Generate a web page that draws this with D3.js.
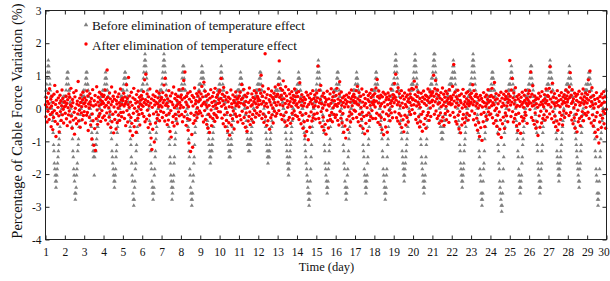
<!DOCTYPE html>
<html>
<head>
<meta charset="utf-8">
<script src="https://cdn.jsdelivr.net/npm/d3@7"></script>
<style>
body { margin: 0; background: #fff; }
svg { display: block; }
text { font-family: "Liberation Serif", "Times New Roman", serif; }
</style>
</head>
<body>
<div id="chart"></div>
<script>
// day index of each row below, samples every 30 min
const days = [1,2,3,4,5,6,7,8,9,10,11,12,13,14,15,16,17,18,19,20,21,22,23,24,25,26,27,28,29];
const xTicks = [1,2,3,4,5,6,7,8,9,10,11,12,13,14,15,16,17,18,19,20,21,22,23,24,25,26,27,28,29,30];
const yTicks = [-4,-3,-2,-1,0,1,2,3];
const seriesNames = ["Before elimination of temperature effect", "After elimination of temperature effect"];

// cable force variation (%) before temperature correction, one row per day
const beforeByDay = [
 [0.37,0.56,0.56,0.74,0.93,1.11,1.30,1.48,1.30,1.11,0.93,0.74,0.56,0.37,0.37,0.19,0,-0.19,-0.37,-0.74,-1.11,-1.30,-1.67,-1.85,-2.04,-2.22,-2.41,-2.22,-2.04,-1.85,-1.67,-1.48,-1.30,-1.11,-0.93,-0.74,-0.56,-0.37,-0.19,-0.19,0,0,0.19,0.19,0.37,0.19,0.37,0.37],
 [0.19,0.37,0.37,0.56,0.74,0.93,1.11,0.93,1.11,0.74,0.56,0.56,0.37,0.19,0.19,0,-0.19,-0.19,-0.56,-0.93,-1.30,-1.48,-1.85,-2.04,-2.22,-2.59,-2.78,-2.59,-2.41,-2.04,-1.85,-1.67,-1.30,-1.11,-0.93,-0.56,-0.37,-0.37,-0.19,0,0,0.19,0.19,0.37,0.19,0.37,0.56,0.37],
 [0.37,0.37,0.56,0.74,0.93,1.11,0.93,1.11,0.74,0.74,0.56,0.37,0.37,0.19,0,0,-0.19,-0.37,-0.56,-0.74,-0.93,-1.11,-1.30,-1.48,-1.30,-2.04,-1.48,-1.30,-1.11,-1.30,-1.11,-0.93,-0.74,-0.56,-0.56,-0.37,-0.19,-0.19,0,0,0.19,0.19,0.37,0.19,0.37,0.37,0.56,0.37],
 [0.37,0.56,0.56,0.74,0.93,1.11,0.93,0.93,0.74,0.56,0.56,0.37,0.37,0.19,0,-0.19,-0.19,-0.37,-0.56,-0.74,-0.93,-1.30,-1.48,-1.67,-1.85,-2.04,-2.22,-2.41,-2.22,-2.04,-1.85,-1.48,-1.30,-1.11,-0.74,-0.56,-0.37,-0.19,-0.19,0,0,0.19,0.19,0.37,0.37,0.19,0.37,0.56],
 [0.56,0.56,0.74,0.93,0.93,1.11,1.11,0.93,0.74,0.74,0.56,0.37,0.37,0.19,0.19,0,-0.19,-0.37,-0.56,-0.93,-1.11,-1.48,-1.67,-2.04,-2.22,-2.59,-2.78,-2.96,-2.78,-2.41,-2.22,-1.85,-1.67,-1.30,-1.11,-0.74,-0.56,-0.37,-0.19,-0.19,0,0.19,0.19,0.37,0.37,0.56,0.37,0.56],
 [0.56,0.74,0.74,0.93,1.11,1.30,1.48,1.67,1.48,1.30,1.11,0.93,0.74,0.56,0.37,0.19,0,-0.19,-0.37,-0.74,-1.11,-1.30,-1.67,-1.85,-2.22,-2.41,-2.59,-2.78,-2.59,-2.41,-2.04,-1.85,-1.48,-1.30,-0.93,-0.74,-0.56,-0.37,-0.19,0,0,0.19,0.37,0.37,0.56,0.37,0.56,0.56],
 [0.56,0.74,0.93,1.11,1.30,1.48,1.67,1.48,1.30,1.11,0.93,0.74,0.56,0.37,0.19,0.19,0,-0.19,-0.56,-0.93,-1.11,-1.48,-1.67,-2.04,-2.22,-2.41,-2.78,-2.59,-2.41,-2.22,-2.04,-1.67,-1.48,-1.11,-0.93,-0.74,-0.37,-0.37,-0.19,0,0.19,0.19,0.37,0.37,0.56,0.56,0.37,0.56],
 [0.56,0.56,0.74,0.93,1.11,1.30,1.11,1.30,0.93,0.74,0.56,0.56,0.37,0.37,0.19,0,-0.19,-0.37,-0.56,-0.93,-1.30,-1.48,-1.85,-2.04,-2.41,-2.59,-2.78,-2.96,-2.78,-2.59,-2.22,-2.04,-1.67,-1.48,-1.11,-0.74,-0.56,-0.37,-0.19,0,0,0.19,0.37,0.37,0.56,0.74,0.56,0.74],
 [0.74,0.74,0.93,1.11,1.30,1.11,0.93,1.11,0.93,0.74,0.56,0.56,0.37,0.37,0.19,0.19,0,-0.19,-0.37,-0.56,-0.74,-0.93,-1.11,-1.30,-1.48,-1.67,-1.48,-1.30,-1.11,-1.30,-1.11,-0.93,-0.74,-0.56,-0.37,-0.37,-0.19,0,0,0.19,0.19,0.37,0.37,0.56,0.37,0.56,0.56,0.74],
 [0.56,0.74,0.93,1.11,1.30,1.11,0.93,0.93,0.74,0.56,0.56,0.37,0.37,0.19,0.19,0,0,-0.19,-0.37,-0.56,-0.74,-0.93,-1.11,-1.30,-1.48,-1.30,-1.48,-1.30,-1.11,-0.93,-1.11,-0.74,-0.56,-0.37,-0.37,-0.19,-0.19,0,0,0.19,0.19,0.37,0.37,0.37,0.56,0.37,0.56,0.56],
 [0.56,0.56,0.74,0.93,1.11,0.93,0.93,0.74,0.74,0.56,0.37,0.37,0.19,0.19,0,0,-0.19,-0.19,-0.37,-0.56,-0.74,-0.93,-1.11,-1.11,-1.30,-1.11,-1.30,-1.11,-0.93,-1.11,-0.93,-0.74,-0.56,-0.37,-0.37,-0.19,0,0,0.19,0.19,0.37,0.37,0.56,0.37,0.56,0.56,0.74,0.56],
 [0.56,0.74,0.74,0.93,1.11,0.93,1.11,0.74,0.56,0.56,0.37,0.37,0.19,0.19,0,-0.19,-0.19,-0.37,-0.56,-0.74,-0.93,-1.11,-1.30,-1.48,-1.67,-1.48,-1.30,-1.48,-1.30,-1.11,-0.93,-0.74,-0.56,-0.56,-0.37,-0.19,-0.19,0,0,0.19,0.19,0.37,0.37,0.56,0.56,0.37,0.56,0.56],
 [0.56,0.74,0.93,0.93,1.11,0.93,0.74,0.74,0.56,0.56,0.37,0.37,0.19,0.19,0,0,-0.19,-0.37,-0.37,-0.56,-0.74,-0.93,-1.11,-1.30,-1.48,-1.67,-1.85,-2.04,-1.85,-1.67,-1.48,-1.30,-1.11,-0.93,-0.74,-0.56,-0.37,-0.19,0,0,0.19,0.19,0.37,0.37,0.56,0.37,0.56,0.56],
 [0.56,0.74,0.74,0.93,1.11,0.93,0.93,0.74,0.56,0.56,0.37,0.37,0.19,0,0,-0.19,-0.37,-0.56,-0.74,-0.93,-1.11,-1.30,-1.48,-1.67,-1.85,-2.04,-2.22,-2.41,-2.59,-2.78,-2.96,-2.78,-2.59,-2.22,-1.85,-1.48,-1.11,-0.74,-0.56,-0.37,-0.19,0,0,0.19,0.19,0.37,0.37,0.56],
 [0.56,0.74,0.93,1.11,1.30,1.48,1.30,1.11,0.93,0.74,0.56,0.56,0.37,0.19,0.19,0,-0.19,-0.37,-0.56,-0.74,-1.11,-1.30,-1.67,-1.85,-2.04,-2.22,-2.41,-2.59,-2.41,-2.22,-1.85,-1.67,-1.30,-1.11,-0.93,-0.56,-0.37,-0.19,-0.19,0,0.19,0.19,0.37,0.37,0.56,0.37,0.56,0.56],
 [0.56,0.56,0.74,0.93,1.11,0.93,1.11,0.74,0.74,0.56,0.37,0.37,0.19,0.19,0,-0.19,-0.37,-0.56,-0.74,-1.11,-1.30,-1.67,-1.85,-2.22,-2.41,-2.59,-2.78,-2.59,-2.41,-2.04,-1.85,-1.48,-1.30,-0.93,-0.74,-0.56,-0.37,-0.19,0,0,0.19,0.19,0.37,0.37,0.56,0.56,0.37,0.56],
 [0.56,0.74,0.74,0.93,1.11,0.93,0.93,0.74,0.56,0.56,0.37,0.37,0.19,0.19,0,-0.19,-0.19,-0.37,-0.56,-0.74,-1.11,-1.30,-1.48,-1.85,-2.04,-2.22,-2.41,-2.59,-2.41,-2.22,-2.04,-1.67,-1.48,-1.11,-0.93,-0.56,-0.37,-0.19,-0.19,0,0.19,0.19,0.37,0.37,0.56,0.37,0.56,0.56],
 [0.56,0.56,0.74,0.93,1.11,1.11,0.93,0.74,0.74,0.56,0.37,0.37,0.19,0,0,-0.19,-0.37,-0.56,-0.74,-0.93,-1.30,-1.48,-1.85,-2.04,-2.22,-2.41,-2.59,-2.78,-2.59,-2.41,-2.04,-1.85,-1.48,-1.11,-0.93,-0.56,-0.37,-0.19,0,0,0.19,0.37,0.37,0.56,0.56,0.74,0.56,0.74],
 [0.74,0.93,1.11,1.30,1.48,1.67,1.48,1.30,1.11,0.93,0.74,0.56,0.56,0.37,0.19,0,-0.19,-0.37,-0.56,-0.74,-0.93,-1.30,-1.48,-1.67,-1.85,-2.04,-2.22,-2.04,-1.85,-1.67,-1.48,-1.30,-1.11,-0.93,-0.74,-0.56,-0.37,-0.19,0,0.19,0.19,0.37,0.56,0.56,0.74,0.56,0.74,0.74],
 [0.74,0.93,1.11,1.30,1.48,1.67,1.48,1.30,1.11,0.93,0.74,0.56,0.56,0.37,0.19,0,-0.19,-0.37,-0.56,-0.93,-1.11,-1.48,-1.67,-1.85,-2.04,-2.22,-2.41,-2.59,-2.41,-2.22,-2.04,-1.67,-1.48,-1.11,-0.93,-0.56,-0.37,-0.19,0,0.19,0.19,0.37,0.56,0.56,0.74,0.74,0.93,0.74],
 [0.93,1.11,1.30,1.48,1.67,1.48,1.67,1.30,1.11,0.93,0.74,0.56,0.56,0.37,0.37,0.19,0.19,0,-0.19,-0.37,-0.56,-0.56,-0.74,-0.93,-0.74,-0.93,-0.74,-0.56,-0.56,-0.37,-0.37,-0.19,-0.19,0,0,0.19,0.19,0.37,0.37,0.37,0.56,0.56,0.74,0.56,0.74,0.74,0.93,0.74],
 [0.74,0.93,1.11,1.30,1.48,1.30,1.11,1.11,0.93,0.74,0.56,0.56,0.37,0.37,0.19,0,-0.19,-0.37,-0.56,-0.74,-1.11,-1.30,-1.67,-1.85,-2.04,-2.22,-2.41,-2.22,-2.04,-1.85,-1.67,-1.30,-1.11,-0.93,-0.74,-0.56,-0.37,-0.19,0,0,0.19,0.37,0.37,0.56,0.56,0.74,0.56,0.74],
 [0.74,0.93,1.11,1.30,1.48,1.67,1.48,1.30,1.11,0.93,0.74,0.56,0.37,0.37,0.19,0,-0.19,-0.37,-0.74,-0.93,-1.30,-1.48,-1.85,-2.04,-2.22,-2.59,-2.78,-2.96,-2.78,-2.59,-2.22,-1.85,-1.67,-1.30,-0.93,-0.74,-0.56,-0.37,-0.19,0,0.19,0.19,0.37,0.37,0.56,0.37,0.56,0.56],
 [0.56,0.56,0.74,0.93,1.11,0.93,1.11,0.93,0.74,0.56,0.56,0.37,0.37,0.19,0,-0.19,-0.37,-0.56,-0.74,-1.11,-1.30,-1.67,-1.85,-2.22,-2.41,-2.59,-2.78,-2.96,-3.15,-2.96,-2.59,-2.22,-1.85,-1.48,-1.11,-0.74,-0.56,-0.37,-0.19,0,0,0.19,0.37,0.37,0.56,0.56,0.74,0.56],
 [0.74,0.74,0.93,1.11,1.30,1.11,0.93,0.93,0.74,0.56,0.56,0.37,0.37,0.19,0,-0.19,-0.37,-0.56,-0.74,-0.93,-1.30,-1.48,-1.85,-2.04,-2.22,-2.41,-2.59,-2.41,-2.22,-2.04,-1.67,-1.48,-1.11,-0.93,-0.74,-0.56,-0.37,-0.19,0,0,0.19,0.37,0.37,0.56,0.56,0.37,0.56,0.74],
 [0.56,0.74,0.93,1.11,1.30,1.11,1.30,0.93,0.74,0.74,0.56,0.37,0.37,0.19,0.19,0,-0.19,-0.37,-0.56,-0.74,-1.11,-1.30,-1.67,-1.85,-2.04,-2.22,-2.41,-2.59,-2.41,-2.22,-1.85,-1.67,-1.30,-1.11,-0.74,-0.56,-0.37,-0.19,0,0.19,0.19,0.37,0.37,0.56,0.56,0.74,0.56,0.74],
 [0.74,0.93,1.11,1.30,1.48,1.30,1.11,0.93,0.93,0.74,0.56,0.56,0.37,0.37,0.19,0,-0.19,-0.37,-0.56,-0.74,-0.93,-1.30,-1.48,-1.67,-1.85,-2.04,-2.22,-2.04,-1.85,-1.67,-1.48,-1.30,-1.11,-0.93,-0.74,-0.56,-0.37,-0.19,0,0.19,0.19,0.37,0.37,0.56,0.56,0.74,0.56,0.74],
 [0.74,0.74,0.93,1.11,1.30,1.11,0.93,0.93,0.74,0.56,0.56,0.37,0.37,0.19,0.19,0,-0.19,-0.37,-0.56,-0.74,-0.93,-1.11,-1.30,-1.48,-1.67,-1.85,-2.04,-2.22,-2.41,-2.22,-1.85,-1.67,-1.30,-1.11,-0.74,-0.56,-0.37,-0.19,0,0.19,0.19,0.37,0.37,0.56,0.56,0.74,0.56,0.56],
 [0.56,0.74,0.74,0.93,1.11,0.93,1.11,0.93,0.74,0.56,0.56,0.37,0.37,0.19,0,-0.19,-0.37,-0.56,-0.74,-0.93,-1.30,-1.48,-1.85,-2.04,-2.22,-2.59,-2.78,-2.96,-2.78,-2.59,-2.22,-1.85,-1.48,-1.30,-0.93,-0.74,-0.56,-0.37,-0.19,0,0,0.19,0.19,0.37,0.37,0.56,0.37,0.56]
];

// cable force variation (%) after temperature correction, one row per day
const afterByDay = [
 [0.12,-0.25,0.34,0.05,-0.41,0.22,-0.08,0.47,0.15,-0.33,0.61,0.02,-0.18,0.29,-0.55,0.08,0.38,-0.12,-0.64,0.19,-0.27,0.44,-0.06,0.71,-0.39,0.13,-0.85,0.26,-0.15,0.52,-0.47,0.04,0.33,-0.22,-0.71,0.17,0.41,-0.09,0.24,-0.36,0.09,0.57,-0.19,0.31,-0.02,-0.44,0.2,0.06],
 [0.21,-0.14,0.09,0.38,-0.31,0.16,-0.52,0.27,0.03,-0.19,0.45,-0.07,0.35,-0.41,0.11,0.62,-0.23,0.07,-0.6,0.28,0.18,-0.35,0.49,-0.11,-0.78,0.36,0.01,-0.29,0.55,-0.46,0.14,0.23,-0.16,0.83,-0.38,0.1,-0.05,0.32,-0.57,0.19,0.42,-0.13,0.06,-0.34,0.27,0.5,-0.21,0.15],
 [-0.09,0.33,0.18,-0.44,0.07,0.26,-0.2,0.54,-0.12,0.39,-0.67,0.14,0.02,-0.27,0.46,0.21,-0.5,0.11,0.31,-0.93,-0.16,0.58,-0.37,0.08,-1.12,0.24,-0.61,0.4,-1.28,0.12,-0.31,0.67,-0.04,-0.48,0.2,0.35,-0.24,0.09,0.5,-0.15,0.27,-0.39,0.13,0.44,-0.06,0.22,-0.28,0.37],
 [0.16,0.41,-0.22,0.05,0.57,-0.35,0.28,0.1,-0.13,1.18,0.34,-0.47,0.19,0.03,-0.26,0.48,-0.09,0.3,-0.58,0.12,0.66,-0.4,0.22,-0.17,0.38,-0.74,0.05,0.29,-0.33,0.51,-0.1,-0.62,0.24,0.14,-0.43,0.36,0.02,-0.2,0.45,0.18,-0.36,0.09,0.6,-0.12,0.27,-0.25,0.13,0.32],
 [0.25,-0.11,0.47,0.08,-0.3,0.36,0.15,-0.52,0.22,0.73,-0.06,0.31,-0.41,0.12,0.95,-0.19,0.04,0.39,-0.68,0.2,-0.27,0.5,-0.45,0.1,-0.82,0.33,-0.14,0.62,-0.55,0.01,0.28,-0.36,0.17,-0.72,0.43,-0.08,0.21,-0.29,0.54,0.06,-0.18,0.35,-0.5,0.14,0.26,-0.03,0.4,0.11],
 [-0.15,0.3,0.07,0.52,-0.24,0.19,0.88,-0.4,0.27,1.05,0.13,-0.32,0.45,-0.05,0.22,-0.58,0.36,0.09,-0.21,0.6,-0.47,0.17,-0.9,0.3,-1.25,0.04,-0.63,0.42,-0.16,0.25,-1.02,0.11,0.37,-0.44,0.2,-0.1,0.53,-0.3,0.15,0.33,-0.19,0.06,0.47,-0.37,0.24,0.1,-0.08,0.29],
 [0.34,0.05,-0.27,0.49,0.18,-0.12,0.72,0.26,-0.38,0.93,0.1,0.41,-0.2,0.16,-0.49,0.3,0.07,-0.35,0.55,-0.14,0.23,-0.7,0.39,-0.06,-0.87,0.2,0.48,-0.42,0.12,-0.24,0.66,-0.53,0.03,0.31,-0.17,0.44,-0.31,0.09,0.25,-0.46,0.37,0.14,-0.1,0.58,-0.22,0.19,0.02,0.35],
 [0.1,0.42,-0.18,0.27,-0.4,0.61,0.04,0.86,-0.25,0.33,1.12,-0.09,0.2,-0.51,0.38,0.12,-0.3,0.47,-0.66,0.06,-1.05,0.29,-0.34,0.52,-1.31,-0.14,0.21,-0.79,0.4,-1.18,0.08,-0.45,0.34,-0.2,0.63,-0.37,0.15,0.25,-0.11,0.46,-0.28,0.03,0.39,-0.16,0.22,0.51,-0.07,0.3],
 [0.27,-0.13,0.45,0.09,0.68,-0.22,0.36,0.15,-0.41,0.81,0.2,-0.06,0.53,-0.33,0.12,0.39,-0.48,0.05,0.26,-0.6,0.44,-0.17,0.1,-0.73,0.32,-0.25,0.58,-0.04,-0.52,0.19,0.37,-0.3,0.07,0.49,-0.15,0.23,-0.39,0.62,0.11,-0.2,0.35,0.01,-0.27,0.43,0.16,-0.09,0.28,0.5],
 [0.18,0.56,-0.1,0.31,0.92,0.07,-0.29,0.44,0.24,-0.46,0.65,0.13,-0.19,0.38,-0.55,0.02,0.27,-0.36,0.49,-0.12,-0.68,0.21,0.35,-0.43,0.06,-0.81,0.3,-0.2,0.57,-0.5,0.15,0.04,-0.31,0.42,-0.07,0.25,-0.62,0.18,0.36,-0.16,0.51,0.09,-0.24,0.29,0.14,-0.41,0.33,0.2],
 [0.06,0.39,-0.21,0.5,0.17,-0.34,0.28,0.74,-0.08,0.32,-0.45,0.14,0.59,-0.27,0.1,0.41,-0.57,0.22,-0.13,0.36,-0.69,0.03,0.47,-0.38,0.19,-0.24,0.63,-0.1,-0.49,0.26,0.08,-0.32,0.45,0.12,-0.18,0.34,-0.42,0.21,0.55,-0.06,0.3,-0.26,0.15,0.48,-0.14,0.04,0.37,0.23],
 [0.31,0.12,-0.2,0.58,0.25,-0.09,0.47,1.02,0.14,-0.3,0.38,0.69,-0.16,0.22,-0.42,0.51,0.08,1.68,-0.25,0.33,0.16,-0.51,0.43,0.05,-0.37,0.61,-0.12,0.27,-0.63,0.2,0.4,-0.28,0.11,0.54,-0.19,0.35,0.02,-0.44,0.29,0.47,-0.08,0.18,0.66,-0.23,0.37,0.1,-0.15,0.42],
 [0.44,0.2,0.73,-0.06,1.46,0.35,0.12,0.62,-0.18,0.41,0.28,-0.33,0.56,0.09,0.85,-0.22,0.3,0.47,-0.41,0.16,0.67,-0.11,0.39,-0.52,0.24,0.04,-0.35,0.58,0.13,-0.27,0.45,0.21,-0.45,0.33,0.07,0.52,-0.14,0.29,-0.31,0.4,0.18,-0.07,0.6,0.25,-0.2,0.36,0.1,0.48],
 [0.15,-0.24,0.37,0.04,0.52,-0.33,0.21,0.79,-0.12,0.3,-0.46,0.1,0.43,-0.2,0.25,-0.6,0.08,0.35,-0.4,0.17,-0.83,0.28,-0.15,0.5,-0.7,0.06,-0.36,0.41,-0.95,0.13,-0.23,0.33,-0.57,0.2,0.46,-0.1,0.27,-0.38,0.14,0.55,-0.28,0.05,0.31,-0.17,0.42,0.09,-0.32,0.24],
 [0.22,0.48,-0.14,0.33,1.3,0.06,-0.3,0.56,0.18,-0.43,0.28,0.71,-0.09,0.15,-0.55,0.39,0.02,-0.26,0.47,-0.66,0.11,0.34,-0.48,0.2,-0.78,0.27,-0.05,0.53,-0.37,0.12,-0.59,0.3,0.08,-0.21,0.45,-0.33,0.16,0.61,-0.12,0.26,-0.4,0.36,0.03,0.5,-0.18,0.24,0.1,-0.27],
 [0.13,0.4,-0.19,0.62,0.07,-0.36,0.29,0.16,-0.5,0.45,0.82,-0.08,0.24,-0.29,0.51,0.1,-0.44,0.33,-0.15,0.19,-0.72,0.38,0.05,-0.53,0.27,-0.9,0.14,0.42,-0.34,0.21,-0.64,0.06,0.35,-0.23,0.48,-0.1,0.2,-0.41,0.3,0.57,-0.16,0.09,0.37,-0.3,0.25,0.44,-0.05,0.18],
 [0.35,-0.08,0.21,0.55,-0.27,0.14,0.68,0.3,-0.4,0.11,0.49,-0.17,0.25,-0.52,0.38,0.04,-0.32,0.6,-0.11,0.2,-0.61,0.43,-0.24,0.09,-0.77,0.31,0.16,-0.45,0.52,-0.2,0.03,-0.68,0.27,0.4,-0.13,0.22,-0.36,0.47,0.1,-0.25,0.34,0.58,-0.06,0.19,-0.3,0.41,0.12,0.26],
 [0.2,0.46,0.05,-0.3,0.63,0.23,-0.14,0.89,0.37,-0.42,0.17,0.54,-0.2,0.32,-0.49,0.08,0.41,-0.27,0.15,-0.64,0.36,-0.1,0.5,-0.8,0.2,-0.33,0.06,0.44,-0.56,0.27,-0.16,0.35,-0.72,0.12,0.48,-0.22,0.28,-0.05,0.39,-0.37,0.16,0.6,-0.13,0.24,0.07,-0.28,0.43,0.31],
 [0.41,0.18,0.77,-0.1,0.35,1.05,0.26,-0.28,0.52,0.12,-0.38,0.64,0.2,-0.15,0.46,-0.46,0.09,0.33,-0.22,0.55,-0.58,0.17,0.39,-0.34,0.03,-0.71,0.29,0.48,-0.2,0.13,-0.5,0.36,0.06,-0.27,0.42,0.22,-0.41,0.3,0.57,-0.09,0.19,0.45,-0.18,0.34,0.1,0.62,-0.03,0.27],
 [0.3,0.59,0.12,0.84,-0.14,0.43,0.24,-0.33,0.66,0.08,0.37,-0.44,0.2,0.5,-0.25,0.13,-0.56,0.31,0.04,-0.4,0.47,-0.17,0.22,-0.69,0.35,-0.09,0.54,-0.48,0.16,0.29,-0.3,0.41,-0.6,0.1,0.38,-0.21,0.25,0.6,-0.12,0.33,-0.36,0.18,0.51,0.02,-0.24,0.4,0.21,0.47],
 [0.26,0.52,0.09,1.02,0.38,-0.17,0.61,0.21,0.86,-0.07,0.45,0.3,-0.3,0.57,0.14,-0.22,0.4,-0.45,0.18,0.32,-0.13,0.49,0.06,-0.38,0.27,0.63,-0.26,0.11,0.44,-0.51,0.2,0.35,-0.15,0.53,0.07,-0.34,0.24,0.46,-0.08,0.31,0.15,-0.42,0.58,0.19,-0.2,0.37,0.12,0.28],
 [0.33,0.14,0.68,-0.12,0.42,1.35,0.23,-0.26,0.5,0.05,-0.39,0.36,0.17,-0.47,0.29,0.56,-0.2,0.1,-0.62,0.4,-0.09,0.25,-0.74,0.18,0.45,-0.5,0.02,-0.31,0.59,-0.18,0.13,0.37,-0.43,0.21,0.06,-0.28,0.48,0.3,-0.14,0.15,0.52,-0.35,0.24,0.09,-0.21,0.43,0.16,0.35],
 [0.19,0.47,-0.07,0.29,0.73,0.12,-0.34,0.55,0.22,-0.15,0.38,-0.5,0.08,0.44,-0.29,0.16,-0.66,0.34,0.02,-0.43,0.26,-0.85,0.1,0.4,-0.58,-0.17,0.31,-0.97,0.05,0.22,-0.4,0.49,-0.12,0.18,-0.55,0.36,0.07,-0.24,0.42,0.14,-0.33,0.28,0.58,-0.1,0.2,0.03,-0.19,0.37],
 [0.24,-0.16,0.4,0.09,0.62,-0.28,0.18,0.35,-0.45,0.12,0.8,-0.06,0.27,-0.37,0.46,0.01,-0.54,0.3,-0.2,0.15,-0.78,0.41,-0.1,-0.63,0.23,-0.35,0.5,-0.88,0.06,0.32,-0.46,0.17,-0.26,0.44,0.1,-0.61,0.28,-0.13,0.37,0.53,-0.22,0.08,0.3,-0.4,0.19,0.45,-0.04,0.26],
 [1.47,0.38,0.11,-0.24,0.57,0.2,0.92,-0.09,0.33,-0.41,0.48,0.14,-0.3,0.26,0.64,-0.18,0.05,-0.52,0.37,0.1,-0.67,0.29,-0.14,0.43,-0.46,0.07,0.22,-0.75,0.35,-0.25,0.13,0.5,-0.38,0.19,0.04,-0.29,0.41,0.25,-0.11,0.56,-0.2,0.16,0.32,-0.45,0.09,0.27,0.46,0.15],
 [0.21,0.55,-0.03,0.36,1.12,0.17,-0.27,0.44,0.08,0.7,-0.36,0.23,0.1,-0.48,0.39,-0.13,0.27,-0.6,0.15,0.33,-0.4,0.04,-0.82,0.3,0.47,-0.22,0.11,-0.57,0.38,-0.08,0.2,-0.44,0.52,0.13,-0.3,0.25,0.06,-0.19,0.43,0.3,-0.35,0.17,0.6,-0.07,0.24,-0.26,0.4,0.12],
 [0.37,0.13,0.62,-0.16,1.28,0.29,0.05,0.51,-0.31,0.2,0.78,-0.09,0.35,-0.42,0.15,0.46,-0.23,0.08,-0.55,0.32,0.19,-0.38,0.55,-0.66,0.1,0.24,-0.47,0.4,-0.12,0.06,-0.33,0.28,0.49,-0.2,0.14,-0.5,0.36,0.22,-0.07,0.43,-0.27,0.18,0.31,0.57,-0.14,0.09,0.39,0.2],
 [0.28,0.5,0.07,-0.21,0.66,0.34,1.1,-0.12,0.41,0.16,-0.35,0.58,0.22,-0.46,0.3,0.03,-0.28,0.47,-0.6,0.12,0.38,-0.17,0.25,-0.71,0.44,-0.05,-0.4,0.2,0.53,-0.3,0.1,-0.52,0.33,0.18,-0.24,0.45,-0.09,0.27,0.6,-0.37,0.14,0.36,-0.15,0.22,0.48,0.04,-0.2,0.31],
 [0.17,0.43,-0.11,0.88,0.26,-0.3,0.52,1.15,0.07,0.35,-0.44,0.21,0.64,-0.19,0.12,-0.53,0.4,0.02,-0.36,0.28,-0.72,0.15,-0.25,0.49,-0.86,-0.12,0.31,-0.64,0.06,-1.05,0.22,-0.41,0.37,-0.2,0.1,-0.58,0.45,0.16,-0.29,0.33,-0.08,0.52,-0.46,0.2,-0.15,0.36,-0.6,-0.02]
];

const width = 610, height = 281;
const gray = "#808080", red = "#ff0000", ink = "#222";

const svg = d3.select("#chart").append("svg")
    .attr("width", width)
    .attr("height", height);
svg.append("rect").attr("width", width).attr("height", height).attr("fill", "#fff");

const x = d3.scaleLinear().domain([1, 30]).range([45.5, 606.5]);
const y = d3.scaleLinear().domain([-4, 3]).range([239.5, 10.5]);

// turn the per-day rows into {t, v} points
function toPoints(byDay) {
    let pts = [];
    byDay.forEach((row, k) => {
        row.forEach((v, j) => pts.push({t: days[k] + j / row.length, v: v}));
    });
    return pts;
}

const tri = d3.symbol().type(d3.symbolTriangle).size(7);

svg.append("g").selectAll("path")
    .data(toPoints(beforeByDay))
    .join("path")
    .attr("d", tri)
    .attr("transform", d => `translate(${x(d.t)},${y(d.v)})`)
    .attr("fill", gray);

svg.append("g").selectAll("circle")
    .data(toPoints(afterByDay))
    .join("circle")
    .attr("cx", d => x(d.t))
    .attr("cy", d => y(d.v))
    .attr("r", 1.7)
    .attr("fill", red);

// frame + inward ticks on all sides
svg.append("rect")
    .attr("x", x(1)).attr("y", y(3))
    .attr("width", x(30) - x(1)).attr("height", y(-4) - y(3))
    .attr("fill", "none").attr("stroke", ink);

let axBottom = svg.append("g").attr("transform", `translate(0,${y(-4)})`)
    .call(d3.axisBottom(x).tickValues(xTicks).tickFormat(d => String(d))
        .tickSizeInner(-4).tickSizeOuter(0).tickPadding(8));
let axTop = svg.append("g").attr("transform", `translate(0,${y(3)})`)
    .call(d3.axisTop(x).tickValues(xTicks).tickFormat("")
        .tickSizeInner(-4).tickSizeOuter(0));
let axLeft = svg.append("g").attr("transform", `translate(${x(1)},0)`)
    .call(d3.axisLeft(y).tickValues(yTicks).tickFormat(d => String(d))
        .tickSizeInner(-4).tickSizeOuter(0).tickPadding(4));
let axRight = svg.append("g").attr("transform", `translate(${x(30)},0)`)
    .call(d3.axisRight(y).tickValues(yTicks).tickFormat("")
        .tickSizeInner(-4).tickSizeOuter(0));

[axBottom, axTop, axLeft, axRight].forEach(g => {
    g.select(".domain").remove();
    g.selectAll(".tick line").attr("stroke", ink);
    g.selectAll(".tick text")
        .attr("fill", "#111")
        .style("font-family", '"Liberation Serif", "Times New Roman", serif')
        .style("font-size", "11.5px");
});
// keep the last day label inside the page
axBottom.selectAll(".tick text").filter(d => d === 30).attr("dx", "-3");

svg.append("text")
    .attr("x", (x(1) + x(30)) / 2 + 0.5)
    .attr("y", 271)
    .attr("text-anchor", "middle")
    .style("font-size", "12.5px")
    .attr("fill", "#111")
    .text("Time (day)");

svg.append("text")
    .attr("transform", "translate(22,121) rotate(-90)")
    .attr("text-anchor", "middle")
    .style("font-size", "14.5px")
    .attr("fill", "#111")
    .text("Percentage of Cable Force Variation (%)");

// legend
const legend = svg.append("g");
legend.append("path")
    .attr("d", d3.symbol().type(d3.symbolTriangle).size(9))
    .attr("transform", "translate(86,25)")
    .attr("fill", gray);
legend.append("circle")
    .attr("cx", 86).attr("cy", 44).attr("r", 1.7)
    .attr("fill", red);
legend.selectAll(".lg")
    .data(seriesNames)
    .join("text")
    .attr("class", "lg")
    .attr("x", 92)
    .attr("y", (d, i) => 29.5 + i * 20)
    .style("font-size", "13.2px")
    .attr("fill", "#111")
    .text(d => d);
</script>
</body>
</html>
